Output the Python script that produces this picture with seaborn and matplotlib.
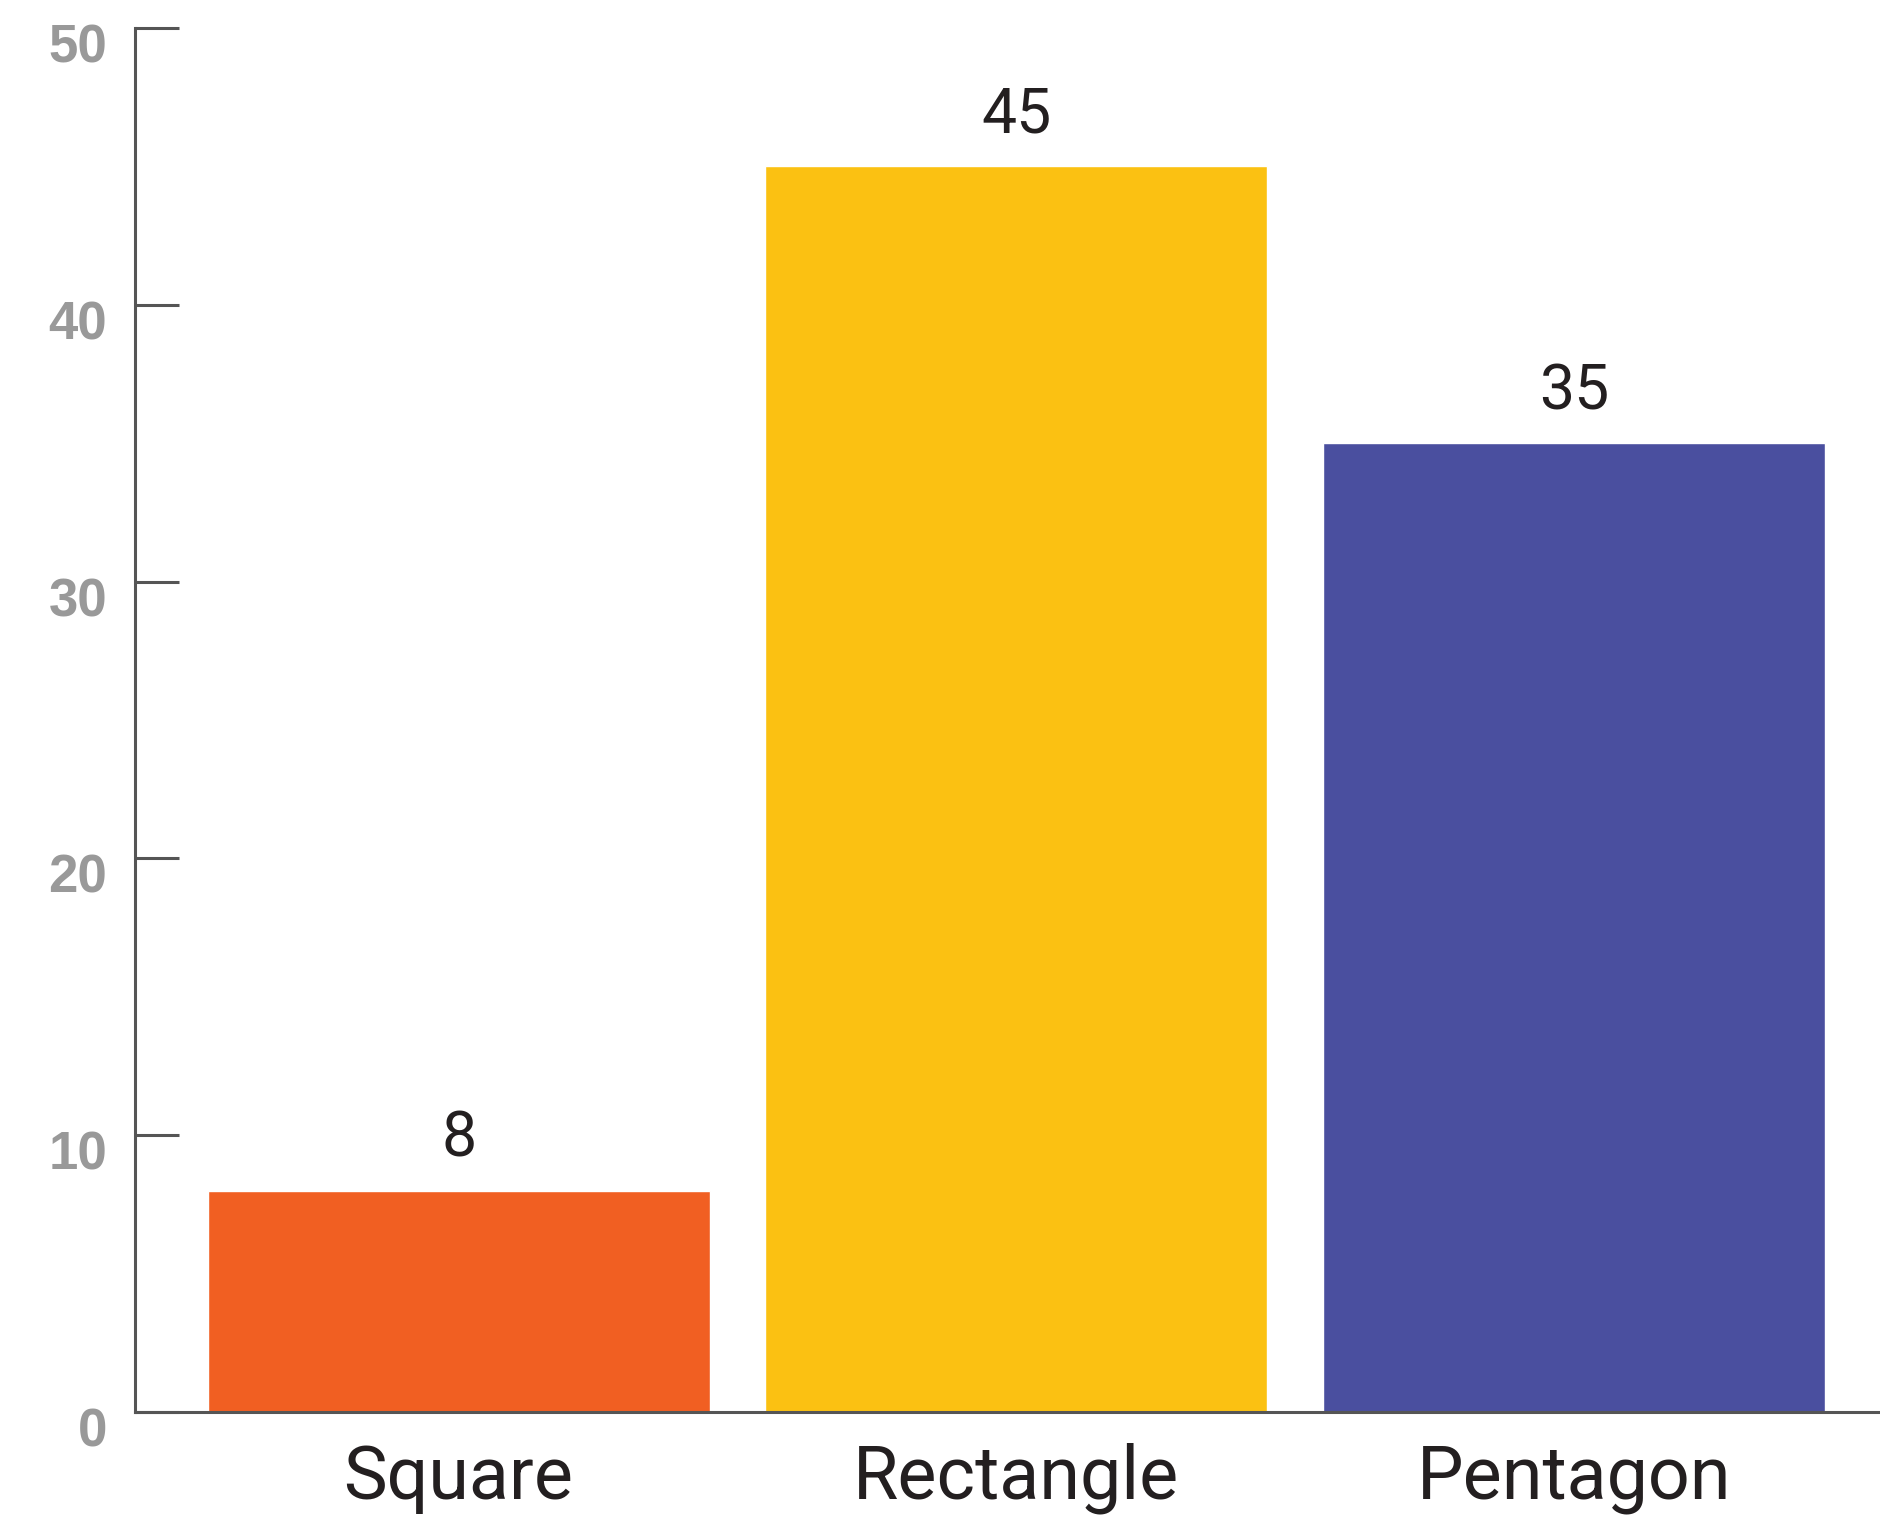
import matplotlib.pyplot as plt
import matplotlib.transforms as mtransforms
import pandas as pd
import seaborn as sns

# Data
shapes = ['Square', 'Rectangle', 'Pentagon']
counts = [8, 45, 35]
bar_colors = ['#F15F22', '#FBC112', '#4A4F9F']
y_ticks = [0, 10, 20, 30, 40, 50]

df = pd.DataFrame({'shape': shapes, 'count': counts})

sns.set_style('white')
plt.rcParams['font.family'] = ['Roboto', 'DejaVu Sans']

fig = plt.figure(figsize=(18.81, 15.25), dpi=100)
ax = fig.add_axes([0.0718, 0.0741, 0.9282, 0.9075])

sns.barplot(data=df, x='shape', y='count', hue='shape', palette=bar_colors,
            width=0.9, saturation=1, legend=False, ax=ax)

ax.set_ylim(0, 50)
ax.set_xlim(-0.58, 2.55)
ax.set_xlabel('')
ax.set_ylabel('')

# value labels above bars
for i, v in enumerate(counts):
    ax.annotate(str(v), (i, v), xytext=(0, 15), textcoords='offset points',
                ha='center', va='bottom', fontsize=45, color='#231f20')

# spines
for side in ['top', 'right']:
    ax.spines[side].set_visible(False)
for side in ['left', 'bottom']:
    ax.spines[side].set_color('#555555')
    ax.spines[side].set_linewidth(2.2)

ax.set_yticks(y_ticks)
ax.set_yticklabels([str(t) for t in y_ticks], fontsize=38, fontweight='bold',
                   color='#999999', family='Liberation Sans')
ax.tick_params(axis='y', left=True, direction='in', length=32, width=2.2,
               color='#555555', pad=20)
ax.tick_params(axis='x', bottom=False, length=0, pad=22, labelsize=53,
               labelcolor='#231f20')

# y labels sit a bit below their tick
offset = mtransforms.ScaledTranslation(0, -15 / 100, fig.dpi_scale_trans)
for lab in ax.get_yticklabels():
    lab.set_transform(lab.get_transform() + offset)

fig.savefig('out.png', dpi=100)
